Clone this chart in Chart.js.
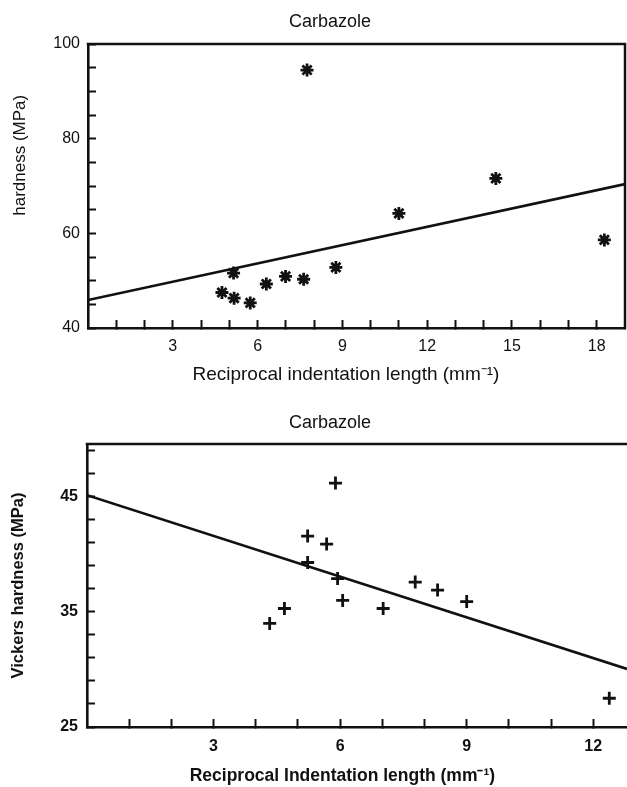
<!DOCTYPE html>
<html><head><meta charset="utf-8">
<script src="https://cdn.jsdelivr.net/npm/chart.js@4.4.1/dist/chart.umd.min.js"></script>
<style>
html,body{margin:0;padding:0;background:#fff;overflow:hidden;width:627px;height:787px}
canvas{display:block;position:absolute;left:0}
</style></head><body>
<canvas id="c1" width="660" height="395" style="top:0"></canvas>
<canvas id="c2" width="660" height="392" style="top:395px"></canvas>
<script>
// ---------- data: top panel ----------
const topTitle = 'Carbazole';
const topXTitle = 'Reciprocal indentation length (mm\u207B\u00B9)    ';
const topYTitle = '             hardness (MPa)';
const topX = [7.75, 4.74, 5.15, 5.17, 5.74, 6.31, 6.99, 7.63, 8.77, 11.0, 14.43, 18.27];
const topY = [94.5, 47.5, 51.6, 46.3, 45.3, 49.3, 50.9, 50.3, 52.8, 64.2, 71.6, 58.6];
const topFitX = [0, 19];
const topFitY = [45.9, 70.4];
const topXTicks = [1, 2, 3, 4, 5, 6, 7, 8, 9, 10, 11, 12, 13, 14, 15, 16, 17, 18];
const topXLabels = [3, 6, 9, 12, 15, 18];
const topYTicks = [40, 45, 50, 55, 60, 65, 70, 75, 80, 85, 90, 95, 100];
const topYLabels = [40, 60, 80, 100];

// ---------- data: bottom panel ----------
const botTitle = 'Carbazole';
const botXTitle = 'Reciprocal Indentation length (mm\u207B\u00B9)      ';
const botYTitle = 'Vickers hardness (MPa)';
const botX = [4.33, 4.68, 5.23, 5.23, 5.68, 5.89, 5.94, 6.06, 7.02, 7.78, 8.31, 9.0, 12.38];
const botY = [34.0, 35.3, 41.6, 39.3, 40.9, 46.2, 37.9, 36.0, 35.3, 37.6, 36.9, 35.9, 27.5];
const botFitX = [0, 12.8];
const botFitY = [45.15, 30.05];
const botXTicks = [1, 2, 3, 4, 5, 6, 7, 8, 9, 10, 11, 12];
const botXLabels = [3, 6, 9, 12];
const botYTicks = [25, 27, 29, 31, 33, 35, 37, 39, 41, 43, 45, 47, 49];
const botYLabels = [25, 35, 45];

const INK = '#111';
const FAMILY = '"Liberation Sans", Arial, sans-serif';

const framePlugin = {
  id: 'frame',
  afterDatasetsDraw(chart, args, o) {
    const {ctx, chartArea: a} = chart;
    ctx.save();
    ctx.strokeStyle = INK; ctx.lineWidth = 2.5; ctx.lineCap = 'square';
    ctx.beginPath();
    ctx.moveTo(a.left, a.top); ctx.lineTo(a.right, a.top);
    if (o.right) ctx.lineTo(a.right, a.bottom);
    ctx.stroke();
    ctx.restore();
  }
};

function pts(xs, ys) { return xs.map((x, i) => ({x, y: ys[i]})); }

function makeChart(id, cfg) {
  const weight = cfg.bold ? 'bold' : 'normal';
  return new Chart(document.getElementById(id), {
    type: 'scatter',
    data: {
      datasets: [
        {
          data: pts(cfg.x, cfg.y),
          pointStyle: cfg.marker, pointRadius: 6.5, pointHoverRadius: 6.5,
          borderColor: INK, backgroundColor: INK, pointBorderWidth: 2.8,
          showLine: false
        },
        {
          data: pts(cfg.fitX, cfg.fitY),
          showLine: true, pointRadius: 0, borderColor: INK, borderWidth: 2.6,
          fill: false
        }
      ]
    },
    options: {
      responsive: false, animation: false, devicePixelRatio: 1,
      layout: {padding: {left: 0, right: 0, top: 0, bottom: cfg.padB}},
      plugins: {
        legend: {display: false}, tooltip: {enabled: false},
        title: {display: true, text: cfg.title, color: INK,
          font: {family: FAMILY, size: 18, weight: 'normal'},
          padding: {top: cfg.titlePadT, bottom: cfg.titlePadB}},
        frame: {right: cfg.frameRight}
      },
      scales: {
        x: {
          type: 'linear', min: cfg.xMin, max: cfg.xMax,
          afterBuildTicks: s => { s.ticks = cfg.xTicks.map(v => ({value: v})); },
          afterFit: s => { s.height = cfg.xAxisH; },
          grid: {drawOnChartArea: false, drawTicks: true, tickLength: -8, tickColor: INK, tickWidth: 2},
          border: {display: true, color: INK, width: 2.6},
          ticks: {autoSkip: false, maxRotation: 0, minRotation: 0, padding: cfg.xTickPad, color: INK,
            font: {family: FAMILY, size: 16, weight: weight},
            callback: v => cfg.xLabels.includes(v) ? String(v) : ''},
          title: {display: true, text: cfg.xTitle, color: INK,
            font: {family: FAMILY, size: cfg.xTitleSize, weight: weight}, padding: {top: 0, bottom: 0}}
        },
        y: {
          type: 'linear', min: cfg.yMin, max: cfg.yMax,
          afterBuildTicks: s => { s.ticks = cfg.yTicks.map(v => ({value: v})); },
          afterFit: s => { s.width = cfg.yAxisW; },
          grid: {drawOnChartArea: false, drawTicks: true, tickLength: -8, tickColor: INK, tickWidth: 2},
          border: {display: true, color: INK, width: 2.6},
          ticks: {autoSkip: false, padding: cfg.yTickPad, color: INK,
            font: {family: FAMILY, size: 16, weight: weight},
            callback: v => cfg.yLabels.includes(v) ? String(v) : ''},
          title: {display: true, text: cfg.yTitle, color: INK,
            font: {family: FAMILY, size: cfg.yTitleSize, weight: weight}, padding: {top: cfg.yTitlePad, bottom: 0}}
        },
        yRight: {
          type: 'linear', position: 'right', min: cfg.yMin, max: cfg.yMax, display: true,
          afterFit: s => { s.width = cfg.rightW; },
          grid: {display: false, drawTicks: false},
          border: {display: false},
          ticks: {display: false}
        }
      }
    },
    plugins: [framePlugin]
  });
}

makeChart('c1', {
  title: topTitle, xTitle: topXTitle, yTitle: topYTitle, bold: false, marker: 'star',
  x: topX, y: topY, fitX: topFitX, fitY: topFitY,
  xMin: 0, xMax: 19, yMin: 40, yMax: 100,
  xTicks: topXTicks, xLabels: topXLabels, yTicks: topYTicks, yLabels: topYLabels,
  rightW: 35, padB: 9.2, titlePadT: 11.2, titlePadB: 11.2,
  xAxisH: 57.8, xTickPad: 16.5, xTitleSize: 19,
  yAxisW: 88, yTickPad: 16, yTitleSize: 17, yTitlePad: 9.8,
  frameRight: true
});

makeChart('c2', {
  title: botTitle, xTitle: botXTitle, yTitle: botYTitle, bold: true, marker: 'cross',
  x: botX, y: botY, fitX: botFitX, fitY: botFitY,
  xMin: 0, xMax: 12.8, yMin: 25, yMax: 49.6,
  xTicks: botXTicks, xLabels: botXLabels, yTicks: botYTicks, yLabels: botYLabels,
  rightW: 33, padB: 0.1, titlePadT: 17.2, titlePadB: 10.2,
  xAxisH: 59.9, xTickPad: 18.4, xTitleSize: 17.5,
  yAxisW: 87, yTickPad: 17, yTitleSize: 16.5, yTitlePad: 8.1,
  frameRight: false
});
</script>
</body></html>
